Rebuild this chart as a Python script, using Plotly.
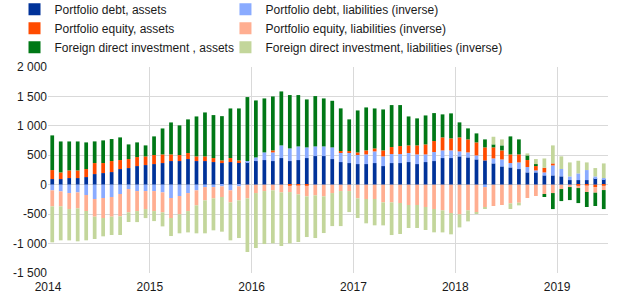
import plotly.graph_objects as go

years = ["2014", "2015", "2016", "2017", "2018", "2019"]
months = [f"{y}-{m:02d}" for y in range(2014, 2020) for m in range(1, 13)][:66]

debt_assets = [96, 96, 113, 113, 130, 181, 198, 215, 266, 283, 317, 334,
               351, 368, 402, 402, 436, 402, 402, 385, 368, 385, 385, 385,
               402, 419, 402, 453, 402, 419, 453, 487, 487, 436, 385, 368,
               351, 351, 368, 317, 368, 368, 385, 351, 385, 402, 453, 453,
               481, 464, 430, 413, 362, 311, 294, 266, 209, 209, 158, 158,
               142, 79, 79, 79, 113, 96]
debt_liab = [-96, -113, -142, -130, -175, -243, -226, -209, -158, -74, -108, -108,
             -108, -130, -226, -192, -142, -96, -40, -40, -28, -96, -28, 17,
             62, 130, 147, 215, 215, 232, 181, 164, 164, 198, 164, 181,
             153, 164, 198, 164, 153, 153, 153, 164, 130, 153, 130, 130,
             85, 85, 68, -40, 85, 119, 74, 113, 91, 34, 51, 170,
             125, 62, 113, 170, 28, 17]
equity_assets = [153, 113, 130, 130, 136, 187, 170, 187, 153, 153, 153, 147,
                 153, 147, 113, 102, 102, 79, 79, 68, 45, 68, 28, 0,
                 0, 0, 34, 0, -17, -11, -17, 0, 0, 0, 23, 23,
                 45, 68, 51, 102, 119, 136, 130, 153, 170, 187, 221, 204,
                 238, 221, 221, 221, 187, 153, 147, 136, 119, 74, 79, 34,
                 0, 0, -17, -11, -40, -17]
equity_liab = [-272, -255, -272, -272, -272, -300, -340, -334, -379, -396, -340, -306,
               -340, -340, -340, -311, -306, -255, -226, -192, -181, -204, -238, -232,
               -142, -108, -96, -130, -108, -153, -181, -181, -198, -142, -108, -108,
               -232, -243, -243, -300, -300, -311, -345, -345, -379, -413, -436, -481,
               -504, -436, -470, -340, -362, -345, -317, -306, -226, -192, -158, -142,
               -74, -40, -40, -113, -96, -74]
fdi_assets = [589, 526, 492, 492, 453, 368, 385, 374, 385, 249, 249, 187,
              317, 441, 543, 504, 572, 679, 747, 730, 752, 843, 883, 1087,
              968, 917, 917, 917, 906, 872, 815, 855, 815, 792, 725, 538,
              713, 730, 679, 696, 713, 696, 492, 459, 492, 475, 391, 425,
              255, 187, 153, 136, 51, 85, 306, 255, 79, 34, -51, -272,
              -204, -221, -255, -255, -226, -323]
fdi_liab = [-611, -577, -532, -560, -498, -379, -311, -311, -317, -164, -187, -153,
            -170, -238, -306, -323, -362, -475, -560, -543, -589, -645, -640, -911,
            -934, -900, -900, -911, -872, -809, -691, -725, -623, -561, -595, -357,
            -334, -413, -447, -391, -555, -526, -391, -391, -391, -396, -374, -362,
            -221, -187, -28, -23, 130, 102, -96, -45, 34, 85, 158, 306,
            215, 238, 215, 130, 142, 249]

series = [
    ("Portfolio debt, assets", debt_assets, "#003299", "legend"),
    ("Portfolio debt, liabilities (inverse)", debt_liab, "#8aabff", "legend2"),
    ("Portfolio equity, assets", equity_assets, "#ff4b00", "legend"),
    ("Portfolio equity, liabilities (inverse)", equity_liab, "#ffae91", "legend2"),
    ("Foreign direct investment , assets", fdi_assets, "#007816", "legend"),
    ("Foreign direct investment, liabilities (inverse)", fdi_liab, "#c3d69b", "legend2"),
]

xs = list(range(len(months)))
fig = go.Figure()
for i, (name, vals, col, leg) in enumerate(series):
    fig.add_trace(go.Bar(x=xs, y=vals, name=name, legend=leg, legendgroup=f"g{i}",
                         marker=dict(color=col, line=dict(width=0)),
                         customdata=months,
                         hovertemplate="%{customdata}: %{y}<extra>" + name + "</extra>"))

font = dict(family="Liberation Sans, Arial, sans-serif", size=12, color="#1a1a1a")
leg_common = dict(orientation="v", y=1.351, yanchor="top", font=font,
                  bgcolor="rgba(0,0,0,0)", borderwidth=0, traceorder="normal",
                  tracegroupgap=2.5)
fig.update_layout(
    width=621, height=302,
    barmode="relative", bargap=0.56,
    paper_bgcolor="white", plot_bgcolor="white",
    margin=dict(l=47.5, r=13.4, t=67.3, b=28.7, autoexpand=False),
    font=font,
    showlegend=True,
    legend=dict(x=-0.0598, xanchor="left", **leg_common),
    legend2=dict(x=0.3169, xanchor="left", **leg_common),
    xaxis=dict(range=[-0.5, len(months) - 0.5], tickmode="array",
               tickvals=[-0.5 + 12 * i for i in range(len(years))], ticktext=years,
               showgrid=True, gridcolor="#d9d9d9", gridwidth=1, zeroline=False,
               showline=False, ticks="", tickfont=font, ticklabelstandoff=5),
    yaxis=dict(range=[-1500, 2000], tickmode="array",
               tickvals=[2000, 1500, 1000, 500, 0, -500, -1000, -1500],
               ticktext=["2 000", "1 500", "1 000", "500", "0", "-500", "-1 000", "-1 500"],
               showgrid=True, gridcolor="#d9d9d9", gridwidth=1, zeroline=False,
               showline=False, ticks="", tickfont=font),
)
fig.write_html("out.html")
